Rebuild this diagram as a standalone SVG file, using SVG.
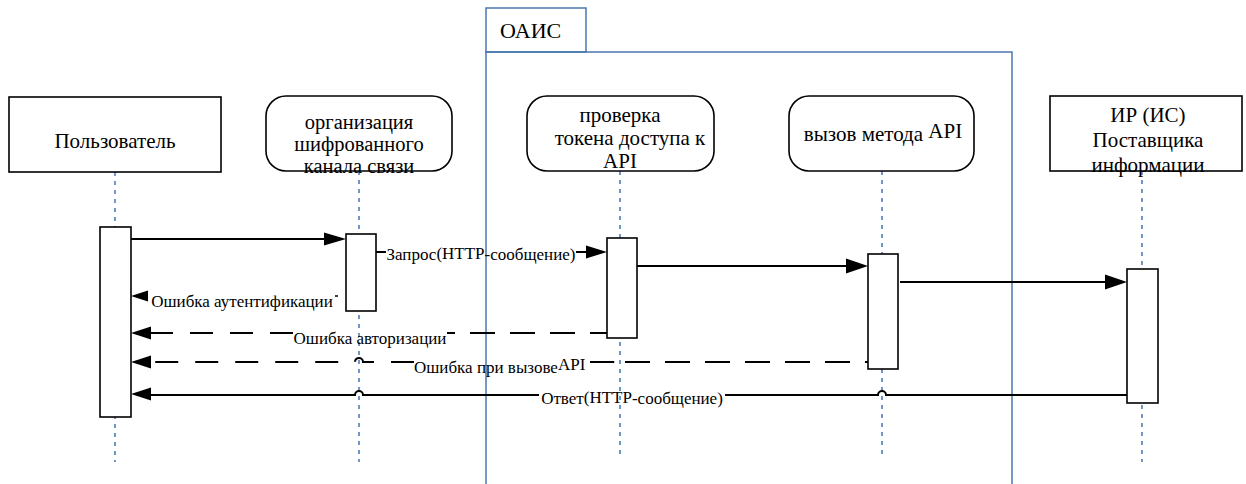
<svg xmlns="http://www.w3.org/2000/svg" width="1246" height="484" viewBox="0 0 1246 484">
<style>
.node{fill:#fff;stroke:#000;stroke-width:1.6}
.act{fill:#fff;stroke:#000;stroke-width:1.6}
.life{stroke:#4a7ebb;stroke-width:1.6;stroke-dasharray:4 5;fill:none}
.frame{fill:none;stroke:#4a77ad;stroke-width:1.5}
.t{font-size:21px;fill:#000;text-anchor:middle}
.lbl{font-size:17px;fill:#000}
.msg{fill:none;stroke:#000;stroke-width:2}
.dash{stroke-dasharray:23 17}
.ah{fill:#000;stroke:none}
</style>
<rect width="1246" height="484" fill="#fff"/>
<g id="lifelines">
  <line class="life" x1="115" y1="172" x2="115" y2="462"/>
  <line class="life" x1="359" y1="171" x2="359" y2="462"/>
  <line class="life" x1="620" y1="171" x2="620" y2="458"/>
  <line class="life" x1="882" y1="171" x2="882" y2="458"/>
  <line class="life" x1="1142" y1="171" x2="1142" y2="462"/>
</g>
<g font-family="'Liberation Serif', 'Times New Roman', Tinos, 'DejaVu Serif', serif">
<g id="oais">
  <rect class="frame" x="486" y="8" width="100" height="44"/>
  <path class="frame" d="M486 484 V52 H1012 V484"/>
  <text class="t" style="text-anchor:start;font-size:22px" x="500" y="38">ОАИС</text>
</g>
<g id="user">
  <rect class="node" x="9" y="97" width="212" height="75"/>
  <text class="t" x="115" y="148">Пользователь</text>
</g>
<g id="channel">
  <rect class="node" x="266" y="96" width="186" height="75" rx="20" ry="20"/>
  <text class="t" style="font-size:20.5px" x="359" y="129">организация</text>
  <text class="t" style="font-size:20.5px" x="359" y="151">шифрованного</text>
  <text class="t" style="font-size:20.5px" x="359" y="173">канала связи</text>
</g>
<g id="token">
  <rect class="node" x="527" y="96" width="187" height="75" rx="20" ry="20"/>
  <text class="t" x="620" y="122">проверка</text>
  <text class="t" x="630" y="145">токена доступа к</text>
  <text class="t" x="620" y="168">API</text>
</g>
<g id="call">
  <rect class="node" x="789" y="96" width="185" height="75" rx="20" ry="20"/>
  <text class="t" x="883" y="141">вызов метода <tspan dy="-3">API</tspan></text>
</g>
<g id="provider">
  <rect class="node" x="1050" y="96" width="192" height="75"/>
  <text class="t" x="1148" y="122">ИР (ИС)</text>
  <text class="t" x="1148" y="147">Поставщика</text>
  <text class="t" x="1148" y="172">информации</text>
</g>
<g id="activations">
  <rect class="act" x="100" y="227" width="31" height="190"/>
  <rect class="act" x="346" y="234" width="30" height="77"/>
  <rect class="act" x="607" y="238" width="30" height="100"/>
  <rect class="act" x="868" y="254" width="30" height="115"/>
  <rect class="act" x="1127" y="269" width="31" height="134"/>
</g>
<g id="connectors">
  <path class="msg" d="M131 239 H326"/>
  <polygon class="ah" points="346,239 324,232.5 324,245.5"/>

  <path class="msg" d="M376 252 H386 M576 252 H588"/>
  <polygon class="ah" points="607,252 586,245.5 586,258.5"/>
  <text class="lbl" x="481" y="260" text-anchor="middle">Запрос<tspan dy="-1.5">(HTTP</tspan><tspan dy="1.5">-сообщение)</tspan></text>

  <path class="msg" d="M637 266 H848"/>
  <polygon class="ah" points="868,266 846,258.5 846,273.5"/>

  <path class="msg" d="M900 282 H1107"/>
  <polygon class="ah" points="1127,282 1105,274.5 1105,289.5"/>

  <polygon class="ah" points="131,296 148,290.5 148,301.5"/>
  <path class="msg" d="M335 296 H338" style="stroke-width:1.5"/>
  <text class="lbl" x="242" y="307" text-anchor="middle">Ошибка аутентификации</text>

  <path class="msg" d="M607 333 H447" style="stroke-dasharray:25 15;stroke-dashoffset:8"/>
  <path class="msg dash" d="M293 333 H150"/>
  <polygon class="ah" points="131,333 151,326.5 151,339.5"/>
  <text class="lbl" x="370" y="344" text-anchor="middle">Ошибка авторизации</text>

  <path class="msg" d="M868 362 H625 A4 4 0 0 0 617 362 H590" style="stroke-dasharray:25 15;stroke-dashoffset:22"/>
  <path class="msg dash" d="M414 362 H363 A4 4 0 0 0 355 362 H150"/>
  <polygon class="ah" points="131,362 151,355.5 151,368.5"/>
  <text class="lbl" x="414" y="373">Ошибка при вызове<tspan dy="-3">API</tspan></text>

  <path class="msg" d="M1127 395 H886 A4 4 0 0 0 878 395 H725 M539 395 H363 A4 4 0 0 0 355 395 H150"/>
  <polygon class="ah" points="131,394 151,387.5 151,400.5"/>
  <text class="lbl" x="632" y="404" text-anchor="middle">Ответ<tspan dy="-1.5">(HTTP</tspan><tspan dy="1.5">-сообщение)</tspan></text>
</g>
</g>
</svg>
